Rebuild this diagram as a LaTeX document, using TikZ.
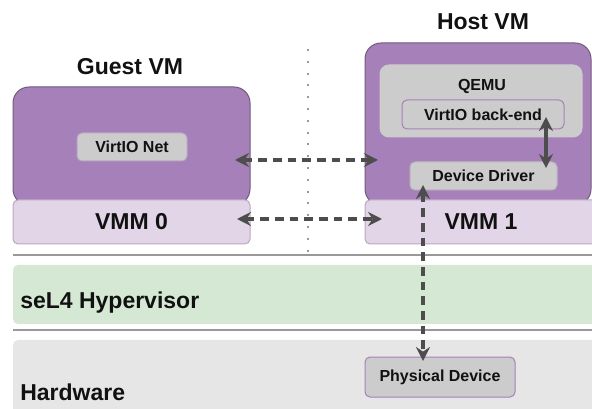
\documentclass[tikz,border=0pt]{standalone}
\usepackage{fontspec}
\setmainfont{Liberation Sans}
\usetikzlibrary{arrows.meta}
\newlength\px
\setlength\px{0.75pt}
\definecolor{vmfill}{HTML}{A680B8}
\definecolor{vmline}{HTML}{6F5A7C}
\definecolor{vmmfill}{HTML}{E1D5E7}
\definecolor{vmmline}{HTML}{B9A8C2}
\definecolor{partfill}{HTML}{CCCCCC}
\definecolor{netline}{HTML}{B8A6C4}
\definecolor{driverline}{HTML}{BDB6C2}
\definecolor{hypfill}{HTML}{D5E8D4}
\definecolor{hwfill}{HTML}{E6E6E6}
\definecolor{sepgray}{HTML}{999999}
\definecolor{linkgray}{HTML}{4D4D4D}
\definecolor{labeltext}{HTML}{111111}
\begin{document}
\begin{tikzpicture}[x=0.75pt, y=-0.75pt,
  >={Stealth[length=10.5pt,width=10.5pt,inset=3.5pt]},
  big/.style={font=\fontsize{17.25}{20}\selectfont\bfseries, text=labeltext},
  small/.style={font=\fontsize{12}{14}\selectfont\bfseries, text=labeltext},
  vm/.style={draw=vmline, fill=vmfill, line width=0.75pt, rounded corners=16\px},
  vmm/.style={draw=vmmline, fill=vmmfill, line width=0.75pt, rounded corners=5\px, big},
  part/.style={draw=#1, fill=partfill, line width=0.75pt, rounded corners=5\px, small},
  layer/.style={fill=#1, rounded corners=5\px},
  dashlink/.style={<->, draw=linkgray, line width=2.3pt, dash pattern=on 6.5pt off 4.5pt},
  link/.style={<->, draw=linkgray, line width=2.3pt},
  sep/.style={draw=sepgray, line width=2.6\px},
  dotline/.style={draw=sepgray, line width=2\px, dash pattern=on 2\px off 9.8\px}]

\useasboundingbox (0,0) rectangle (592,409);
\clip (0,0) rectangle (592,409);

% guest side
\node[vm, minimum width=237\px, minimum height=118\px] (guest) at (131.5,146) {};
\node[big] (guestlbl) at (130,67) {Guest VM};
\node[vmm, minimum width=237\px, minimum height=44\px] (vmm0) at (131.5,222) {VMM 0};
\node[part=netline, minimum width=110\px, minimum height=28\px] (net) at (132,147) {VirtIO Net};

% host side
\node[vm, minimum width=226\px, minimum height=162\px] (host) at (478,124) {};
\node[big] (hostlbl) at (483,22) {Host VM};
\node[vmm, minimum width=232\px, minimum height=44\px] (vmm1) at (481,222) {VMM 1};
\node[part=partfill, rounded corners=9\px, minimum width=202\px, minimum height=72\px] (qemu) at (481,101) {};
\node[small] (qemulbl) at (482,86) {QEMU};
\node[part=vmfill, minimum width=162\px, minimum height=29\px] (backend) at (483,114.5) {VirtIO back-end};
\node[part=driverline, minimum width=147\px, minimum height=28\px] (driver) at (483.5,176) {Device Driver};

\draw[dotline] (308,49) -- (308,252);

% layers
\draw[sep] (13,255) -- (600,255);
\node[layer=hypfill, minimum width=590\px, minimum height=59\px] (hyp) at (308,294.5) {};
\node[big, anchor=west, inner sep=0pt] (hyplbl) at (20,303) {seL4 Hypervisor};
\draw[sep] (13,330) -- (600,330);
\node[layer=hwfill, minimum width=590\px, minimum height=80\px] (hw) at (308,380) {};
\node[big, anchor=west, inner sep=0pt] (hwlbl) at (20,392) {Hardware};
\node[part=vmfill, minimum width=150\px, minimum height=40\px] (phys) at (440,377) {Physical Device};

% connectors
\coordinate (netend) at (235,160);
\coordinate (hostend) at (378,160);
\coordinate (vmm0end) at (237,219);
\coordinate (vmm1end) at (382,219);
\coordinate (drvport) at (423,185);
\coordinate (physport) at (423,361);
\coordinate (backport) at (546,117);
\coordinate (drvtop) at (546,168);
\draw[dashlink] (netend) -- (hostend);
\draw[dashlink] (vmm0end) -- (vmm1end);
\draw[dashlink] (drvport) -- (physport);
\draw[link] (backport) -- (drvtop);

\end{tikzpicture}
\end{document}
